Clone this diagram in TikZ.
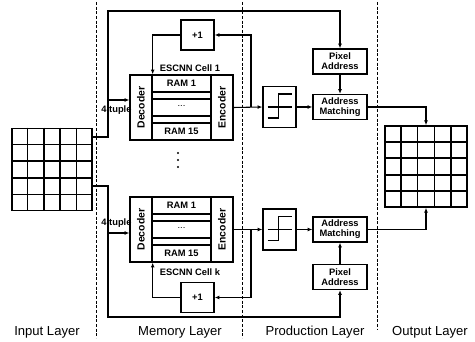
\documentclass[tikz,border=0pt]{standalone}
\usepackage{fontspec}
\setmainfont{Liberation Sans}
\usetikzlibrary{arrows.meta,calc}
\begin{document}
\begin{tikzpicture}[x=0.75pt,y=-0.75pt,
  ln/.style={line width=0.8pt},
  arr/.style={ln,-{Latex[length=3.6pt,width=3pt]}},
  box/.style={draw,line width=1pt,inner sep=0pt,align=center,font=\bfseries\fontsize{7}{7.6}\selectfont},
  lbl/.style={inner sep=0pt,font=\bfseries\fontsize{7}{7.6}\selectfont},
  sep/.style={line width=0.6pt,dash pattern=on 2.2pt off 1.3pt},
  lay/.style={inner sep=0pt,font=\fontsize{9.8}{11}\selectfont},
  gridbox/.style={draw,line width=1.2pt,inner sep=0pt,minimum width=60pt,minimum height=61.5pt},
  gline/.style={line width=1.2pt},
  cellbox/.style={box,minimum width=77.25pt,minimum height=48.75pt},
  sidebox/.style={box,minimum width=16.5pt,minimum height=48.75pt,font=\bfseries\fontsize{7.8}{8}\selectfont},
  plusbox/.style={box,minimum width=24.75pt,minimum height=22.5pt},
  thbox/.style={box,minimum width=24.75pt,minimum height=30.75pt},
  infobox/.style={box,minimum width=40.5pt,minimum height=18.75pt},
  dot/.style={circle,fill,inner sep=0pt,minimum size=1.6pt}]
\useasboundingbox (0,0) rectangle (475,342);

% layer separators
\draw[sep] (96,2) -- (96,338);
\draw[sep] (242,2) -- (242,338);
\draw[sep] (377,2) -- (377,330);

% input grid
\node[gridbox] (in) at (52,169.5) {};
\foreach \i in {1,2,3,4} {
  \draw[gline] ($(in.north west)!\i/5!(in.north east)$) -- ($(in.south west)!\i/5!(in.south east)$);
  \draw[gline] ($(in.north west)!\i/5!(in.south west)$) -- ($(in.north east)!\i/5!(in.south east)$);
}
% output grid
\node[gridbox,minimum width=61.5pt,minimum height=60.75pt] (out) at (426,166.5) {};
\foreach \i in {1,2,3,4} {
  \draw[gline] ($(out.north west)!\i/5!(out.north east)$) -- ($(out.south west)!\i/5!(out.south east)$);
  \draw[gline] ($(out.north west)!\i/5!(out.south west)$) -- ($(out.north east)!\i/5!(out.south east)$);
}

% ---------- cell 1 ----------
\node[cellbox] (c1) at (181.5,107.5) {};
\node[sidebox] (dec1) at (141,107.5) {\rotatebox{90}{Decoder}};
\node[sidebox] (enc1) at (222,107.5) {\rotatebox{90}{Encoder}};
\foreach \yy in {92,99,116,123} \draw[line width=0.9pt] (dec1.east |- 0,\yy) -- (enc1.west |- 0,\yy);
\node[lbl] (r11) at (181.5,83.5) {RAM 1};
\node[lbl,font=\fontsize{7}{7}\selectfont] (r12) at (181.5,106) {...};
\node[lbl] (r115) at (181.5,131.5) {RAM 15};
\node[lbl] (n1) at (190,68) {ESCNN Cell 1};
\node[plusbox] (p1) at (197.5,35) {+1};

% ---------- cell k ----------
\node[cellbox] (ck) at (181.5,229.5) {};
\node[sidebox] (deck) at (141,229.5) {\rotatebox{90}{Decoder}};
\node[sidebox] (enck) at (222,229.5) {\rotatebox{90}{Encoder}};
\foreach \yy in {214,221,238,245} \draw[line width=0.9pt] (deck.east |- 0,\yy) -- (enck.west |- 0,\yy);
\node[lbl] (rk1) at (181.5,205.5) {RAM 1};
\node[lbl,font=\fontsize{7}{7}\selectfont] (rk2) at (181.5,228) {...};
\node[lbl] (rk15) at (181.5,253.5) {RAM 15};
\node[lbl] (nk) at (190,272) {ESCNN Cell k};
\node[plusbox] (pk) at (197.5,297.5) {+1};

% vertical dots
\node[dot] (d1) at (178,153) {};
\node[dot] (d2) at (178,160) {};
\node[dot] (d3) at (178,167) {};

% ---------- production layer ----------
\node[thbox] (th1) at (279.5,107) {};
\node[thbox] (thk) at (279.5,229.5) {};
\foreach \t in {th1,thk} {
  \draw[line width=0.9pt] ($(\t)+(-12,0)$) -- ($(\t)+(12,0)$);
  \draw[line width=0.9pt] ($(\t)+(-12,11)$) -- ($(\t)+(-1,11)$) -- ($(\t)+(-1,-13)$) -- ($(\t)+(12,-13)$);
}
\node[infobox] (am1) at (340,107) {Address\\Matching};
\node[infobox] (pa1) at (340,61.5) {Pixel\\Address};
\node[infobox] (amk) at (340,229.5) {Address\\Matching};
\node[infobox] (pak) at (340,277) {Pixel\\Address};

% ---------- connectors, cell 1 ----------
\coordinate (inA) at (in.east |- 0,137);
\coordinate (b1) at (108,11);
\coordinate (t1) at (108,100);
\draw[arr] (inA) -| (b1) -| (pa1.north);
\draw[arr] (t1) -- (t1 -| dec1.west);
\node[lbl] (tu1) at (116.5,110) {4 tuple};
\coordinate (f1) at (251,35);
\draw[arr] (enc1.east) -- (th1.west);
\draw[arr] (f1 |- enc1.east) -- (f1) -- (p1.east);
\draw[arr] (p1.west) -| (dec1.north east);
\draw[arr] (th1.east) -- (am1.west);
\draw[arr] (pa1.south) -- (am1.north);
\draw[arr] (am1.east) -| (out.north);

% ---------- connectors, cell k ----------
\coordinate (inB) at (in.east |- 0,186);
\coordinate (b2) at (108,317);
\coordinate (t2) at (108,233);
\draw[arr] (inB) -| (b2) -| (pak.south);
\draw[arr] (t2) -- (t2 -| deck.west);
\node[lbl] (tuk) at (116.5,223) {4 tuple};
\coordinate (fk) at (251,297.5);
\draw[arr] (enck.east) -- (thk.west);
\draw[arr] (fk |- enck.east) -- (fk) -- (pk.east);
\draw[arr] (pk.west) -| (deck.south east);
\draw[arr] (thk.east) -- (amk.west);
\draw[arr] (pak.north) -- (amk.south);
\draw[arr] (amk.east) -| (out.south);

% layer labels
\node[lay] (L1) at (47,332) {Input Layer};
\node[lay] (L2) at (180,332) {Memory Layer};
\node[lay] (L3) at (315,332) {Production Layer};
\node[lay] (L4) at (430,332) {Output Layer};
\end{tikzpicture}
\end{document}
